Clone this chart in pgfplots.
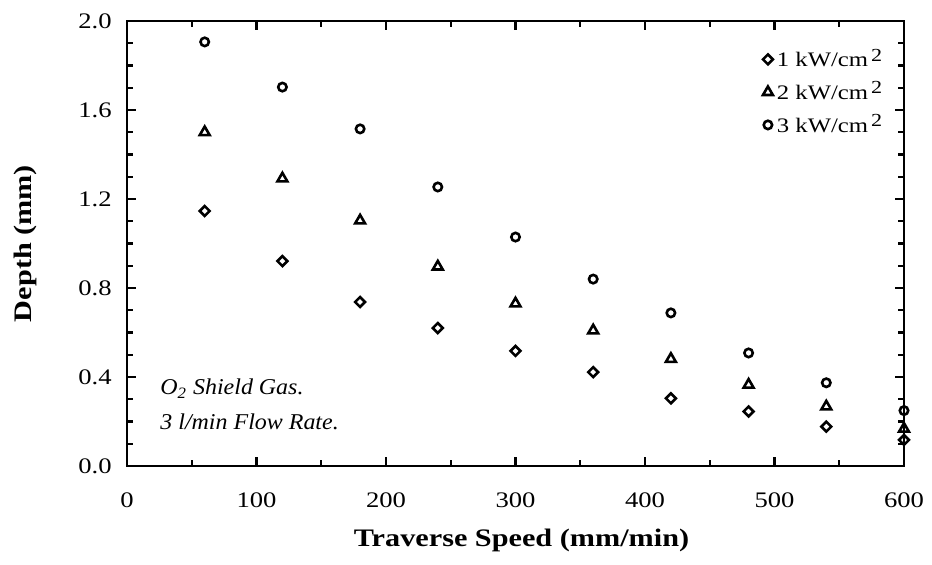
\documentclass[border=0pt]{standalone}
\usepackage{fontspec}
\setmainfont{Liberation Serif}[FakeStretch=1.2]
\newfontfamily\annotfont{Liberation Serif}[FakeStretch=1.06]
\usepackage{pgfplots}
\pgfplotsset{compat=1.18}
\newcommand{\sq}{\hspace{1.5pt}\raisebox{2.8pt}{\fontsize{9.2}{10}\selectfont 2}}
\begin{document}
\begin{tikzpicture}
\useasboundingbox (-63.5pt,-49.5pt) rectangle (402.5pt,233pt);
\begin{axis}[
 scale only axis, width=388.5pt, height=222.5pt,
 at={(0,0)}, anchor=south west,
 xmin=0, xmax=600, ymin=0, ymax=2,
 clip=false,
 xtick={0,100,200,300,400,500,600}, minor x tick num=1,
 ytick={0,0.4,0.8,1.2,1.6,2.0}, minor y tick num=3,
 tick align=inside,
 major tick length=4.5pt, minor tick length=3pt,
 axis line style={line width=1.4pt},
 every tick/.style={black, line width=1.2pt},
 /pgf/number format/assume math mode=true,
 tick label style={font=\fontsize{11.1}{13}\selectfont},
 xticklabel style={anchor=base, yshift=-20.8pt},
 yticklabel style={anchor=east, inner sep=0pt, xshift=-7.5pt,
   /pgf/number format/.cd, fixed, fixed zerofill, precision=1},
 xlabel={Traverse Speed (mm/min)},
 ylabel={Depth (mm)},
 every axis x label/.style={at={(axis description cs:0.5,-0.181)}, anchor=base, xshift=3pt,
   font=\bfseries\fontsize{12.6}{15}\selectfont},
 every axis y label/.style={at={(axis description cs:-0.131,0.5)}, anchor=center, rotate=90,
   font=\bfseries\fontsize{12.6}{15}\selectfont},
 legend style={draw=none, fill=none, at={(0.818,0.947)}, anchor=north west,
   inner sep=0pt, row sep=2pt, font=\fontsize{10.3}{12}\selectfont},
 legend cell align=left,
]
\addplot[only marks, black, line width=1.3pt, mark=square, mark size=1.75pt,
  mark options={rotate=45, solid}] coordinates {
 (60,1.146) (120,0.921) (180,0.737) (240,0.620) (300,0.517)
 (360,0.422) (420,0.304) (480,0.245) (540,0.177) (600,0.117)};
\addlegendentry{1 kW/cm\sq}
\addplot[only marks, black, line width=1.3pt, mark=triangle, mark size=2.85pt,
  mark options={solid}] coordinates {
 (60,1.500) (120,1.292) (180,1.103) (240,0.896) (300,0.730)
 (360,0.609) (420,0.481) (480,0.365) (540,0.267) (600,0.167)};
\addlegendentry{2 kW/cm\sq}
\addplot[only marks, black, line width=1.3pt, mark=o, mark size=2.1pt,
  mark options={solid}] coordinates {
 (60,1.906) (120,1.703) (180,1.515) (240,1.254) (300,1.029)
 (360,0.840) (420,0.688) (480,0.508) (540,0.374) (600,0.249)};
\addlegendentry{3 kW/cm\sq}
\node[anchor=base west, inner sep=0pt, font=\annotfont\itshape\fontsize{11.3}{13}\selectfont]
  at (rel axis cs:0.0425,0.1596) {O\textsubscript{2} Shield Gas.};
\node[anchor=base west, inner sep=0pt, font=\annotfont\itshape\fontsize{11.3}{13}\selectfont]
  at (rel axis cs:0.0425,0.0831) {3 l/min Flow Rate.};
\end{axis}
\end{tikzpicture}
\end{document}
